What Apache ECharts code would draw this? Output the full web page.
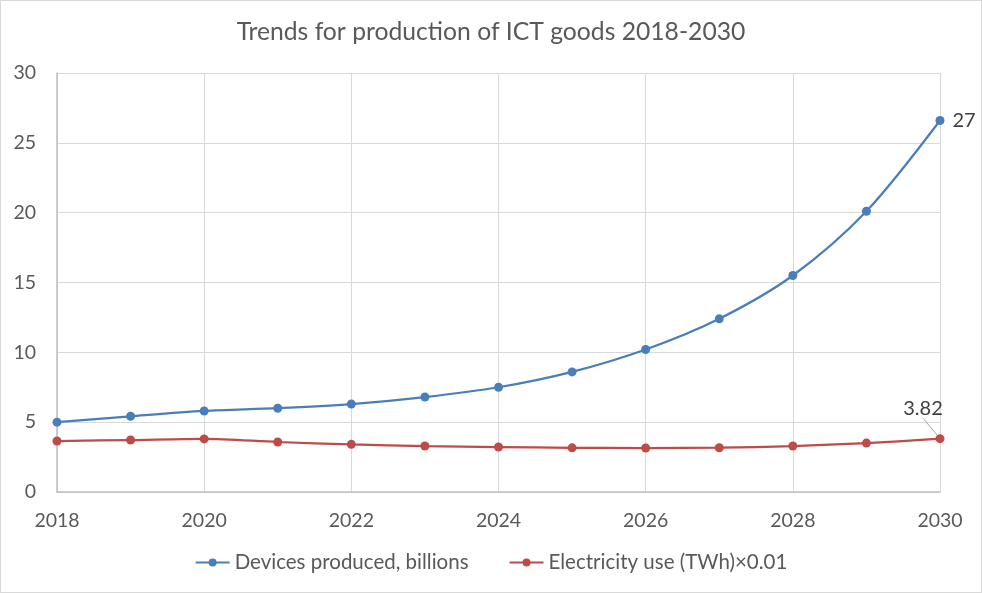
<!DOCTYPE html>
<html><head><meta charset="utf-8">
<script src="https://cdn.jsdelivr.net/npm/echarts@6/dist/echarts.min.js"></script>
<style>html,body{margin:0;padding:0;background:#fff}#c{width:980px;height:591px;border:1px solid #d9d9d9}</style>
</head><body><div id="c"></div>
<script>
const years = [2018,2019,2020,2021,2022,2023,2024,2025,2026,2027,2028,2029,2030];
const devices = [5.0,5.42,5.8,6.0,6.3,6.8,7.5,8.6,10.2,12.4,15.5,20.1,26.6];
const electricity = [3.65,3.72,3.8,3.58,3.41,3.29,3.22,3.16,3.15,3.17,3.29,3.5,3.82];
const seriesNames = ['Devices produced, billions','Electricity use (TWh)×0.01'];
const titleText = 'Trends for production of ICT goods 2018-2030';
const font = 'Lato, "Open Sans", sans-serif';
const chart = echarts.init(document.getElementById('c'));
const last = years.length - 1;
function mk(vals, labelIdx, lbl) {
  return vals.map((v,i)=>{
    const d = {value:[years[i], v]};
    if (i === labelIdx) d.label = lbl;
    return d;
  });
}
chart.setOption({
  animation:false,
  title:{text:titleText,left:'center',top:14,textStyle:{fontFamily:font,fontSize:24.7,fontWeight:'normal',color:'#595959'}},
  legend:{bottom:14,itemWidth:34,itemHeight:10,itemGap:40,textStyle:{fontFamily:font,fontSize:20.5,color:'#595959'},data:seriesNames},
  grid:{left:56,right:41,top:72,bottom:100},
  xAxis:{type:'value',min:2018,max:2030,interval:2,
    axisLine:{lineStyle:{color:'#bfbfbf',width:1.5}},axisTick:{show:false},
    axisLabel:{fontFamily:font,fontSize:19.5,color:'#595959',margin:19,formatter:v=>String(v)},
    splitLine:{show:true,lineStyle:{color:'#d9d9d9'}}},
  yAxis:{type:'value',min:0,max:30,interval:5,
    axisLine:{show:true,lineStyle:{color:'#bfbfbf',width:1.5}},axisTick:{show:false},
    axisLabel:{fontFamily:font,fontSize:19.5,color:'#595959',margin:21},
    splitLine:{show:true,lineStyle:{color:'#d9d9d9'}}},
  series:[
    {name:seriesNames[0],type:'line',smooth:0.3,symbol:'circle',symbolSize:9,
      itemStyle:{color:'#4a7ebb'},lineStyle:{width:2.25,color:'#4a7ebb'},
      data:mk(devices,last,{show:true,position:'right',distance:8,fontFamily:font,fontSize:20,color:'#404040',formatter:p=>Math.round(p.value[1])})},
    {name:seriesNames[1],type:'line',smooth:0.3,symbol:'circle',symbolSize:9,
      itemStyle:{color:'#be4b48'},lineStyle:{width:2.25,color:'#be4b48'},
      labelLine:{show:true,lineStyle:{color:'#a6a6a6',width:1}},
      labelLayout:function(p){ if(p.dataIndex===last) return {dx:-17,dy:-10}; return {}; },
      data:mk(electricity,last,{show:true,position:'top',distance:6,fontFamily:font,fontSize:20,color:'#404040',formatter:p=>p.value[1].toFixed(2)})}
  ]
});
</script></body></html>
